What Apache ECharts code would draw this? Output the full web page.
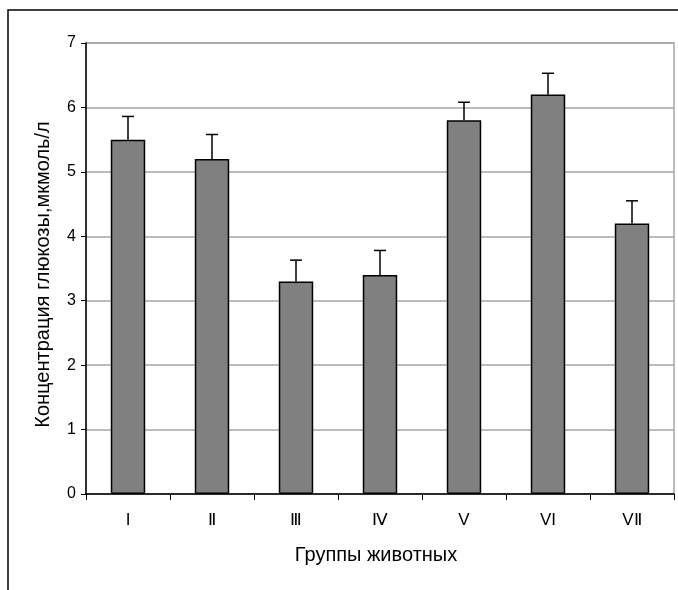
<!DOCTYPE html>
<html>
<head>
<meta charset="utf-8">
<script src="https://cdn.jsdelivr.net/npm/echarts@6/dist/echarts.min.js"></script>
<style>html,body{margin:0;padding:0;background:#fff;}#c{width:678px;height:590px;}</style>
</head>
<body>
<div id="c"></div>
<script>
const categories = ['I', 'Ⅱ', 'Ⅲ', 'Ⅳ', 'V', 'VI', 'VⅡ'];
const glucose = [5.5, 5.2, 3.3, 3.4, 5.8, 6.2, 4.2];
const errors = [0.36, 0.38, 0.33, 0.38, 0.28, 0.33, 0.35];
const yTicks = [0, 1, 2, 3, 4, 5, 6, 7];

const chart = echarts.init(document.getElementById('c'), null, {renderer: 'canvas'});
const font = 'Liberation Sans, Arial, sans-serif';
chart.setOption({
  animation: false,
  backgroundColor: '#fff',
  graphic: [{
    type: 'polyline',
    shape: {points: [[8, 600], [8, 10], [690, 10]]},
    style: {stroke: '#000', lineWidth: 1.5, fill: null},
    silent: true
  }],
  grid: {left: 86, right: 4, top: 43, bottom: 96, show: true, borderColor: '#a6a6a6', borderWidth: 1.5, containLabel: false},
  xAxis: {
    type: 'category',
    data: categories,
    boundaryGap: true,
    name: 'Группы животных',
    nameLocation: 'middle',
    nameGap: 51,
    nameTextStyle: {fontFamily: font, fontSize: 20, color: '#000', padding: [0, 8, 0, 0]},
    axisLine: {lineStyle: {color: '#000', width: 1.5}},
    axisTick: {show: true, alignWithLabel: false, interval: 0, length: 6, lineStyle: {color: '#000'}},
    axisLabel: {fontFamily: font, fontSize: 17, color: '#000', margin: 18, interval: 0}
  },
  yAxis: {
    type: 'value',
    min: yTicks[0],
    max: yTicks[yTicks.length - 1],
    interval: 1,
    name: 'Концентрация глюкозы,мкмоль/л',
    nameLocation: 'middle',
    nameGap: 33,
    nameTextStyle: {fontFamily: font, fontSize: 20, color: '#000', padding: [0, 12, 0, 0]},
    axisLine: {show: true, lineStyle: {color: '#000', width: 1.5}},
    axisTick: {show: true, length: 5, lineStyle: {color: '#000'}},
    axisLabel: {fontFamily: font, fontSize: 16, color: '#000', margin: 10},
    splitLine: {show: true, lineStyle: {color: '#a6a6a6', width: 1.5}}
  },
  series: [{
    type: 'bar',
    data: glucose,
    barWidth: '41%',
    itemStyle: {color: '#808080', borderColor: '#000', borderWidth: 1.5},
    z: 2
  }, {
    type: 'custom',
    z: 3,
    data: glucose.map((v, i) => [i, v, errors[i]]),
    renderItem: function (params, api) {
      const i = api.value(0);
      const p0 = api.coord([i, api.value(1)]);
      const p1 = api.coord([i, api.value(1) + api.value(2)]);
      const hw = 6;
      const st = {stroke: '#000', lineWidth: 1.5};
      return {
        type: 'group',
        children: [
          {type: 'line', shape: {x1: p0[0], y1: p0[1], x2: p1[0], y2: p1[1]}, style: st},
          {type: 'line', shape: {x1: p1[0] - hw, y1: p1[1], x2: p1[0] + hw, y2: p1[1]}, style: st}
        ]
      };
    }
  }]
});
</script>
</body>
</html>
